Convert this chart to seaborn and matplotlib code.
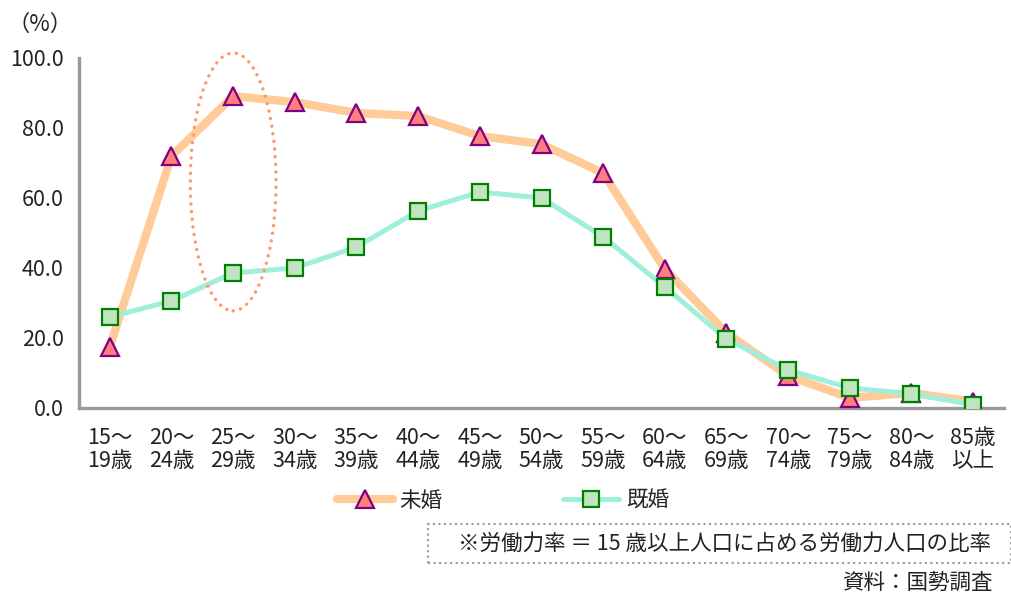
import matplotlib
matplotlib.use('Agg')
import matplotlib.pyplot as plt
import numpy as np
import pandas as pd
import seaborn as sns
from matplotlib.patches import Ellipse, Rectangle

age_labels = ['15～\n19歳', '20～\n24歳', '25～\n29歳', '30～\n34歳', '35～\n39歳',
              '40～\n44歳', '45～\n49歳', '50～\n54歳', '55～\n59歳', '60～\n64歳',
              '65～\n69歳', '70～\n74歳', '75～\n79歳', '80～\n84歳', '85歳\n以上']
unmarried = [17.5, 72.0, 89.1, 87.4, 84.3, 83.4, 77.7, 75.4, 67.1, 39.7,
             21.4, 9.2, 2.9, 4.3, 1.8]
married = [26.0, 30.6, 38.6, 40.0, 46.0, 56.3, 61.7, 60.0, 48.9, 34.6,
           19.7, 10.9, 5.7, 4.1, 0.9]
y_ticks = [0, 20, 40, 60, 80, 100]


def main():
    sns.set_style('white')
    plt.rcParams['font.family'] = ['Noto Sans CJK JP', 'DejaVu Sans']

    df = pd.DataFrame({'pos': np.arange(len(age_labels)),
                       'unmarried': unmarried, 'married': married})

    fig = plt.figure(figsize=(10.12, 5.92), dpi=100)
    ax = fig.add_axes([79 / 1012, 1 - 408 / 592, 925 / 1012, 350 / 592])

    grey = '#999999'
    txt = '#222222'
    fs = 15.5

    sns.lineplot(data=df, x='pos', y='unmarried', ax=ax, color='#FFCC99',
                 linewidth=6, marker='^', markersize=13,
                 markerfacecolor='#FF7F7F', markeredgecolor='#800080',
                 markeredgewidth=1.6, label='未婚', zorder=3)
    sns.lineplot(data=df, x='pos', y='married', ax=ax, color='#A0EEDC',
                 linewidth=3.6, marker='s', markersize=11,
                 markerfacecolor='#C0E4C0', markeredgecolor='#008000',
                 markeredgewidth=1.6, label='既婚', zorder=4)

    handles, labels = ax.get_legend_handles_labels()
    if ax.get_legend() is not None:
        ax.get_legend().remove()

    # dotted ring around 25-29
    ell = Ellipse((2.0, 64.6), width=1.39, height=73.7, fill=False,
                  edgecolor='#FF9966', linewidth=2.5, linestyle=(0, (0.01, 2.2)),
                  clip_on=False, zorder=5)
    ell.set_capstyle('round')
    ax.add_patch(ell)

    ax.set_xlim(-0.5, len(age_labels) - 0.5)
    ax.set_ylim(0, 100)
    ax.set_xlabel('')
    ax.set_ylabel('')

    ax.set_xticks(np.arange(len(age_labels)))
    ax.set_xticklabels(age_labels, fontsize=fs, linespacing=1.05)
    ax.set_xticks(np.arange(0.5, len(age_labels), 1), minor=True)
    ax.tick_params(axis='x', which='major', length=0, pad=14, labelcolor=txt)
    ax.tick_params(axis='x', which='minor', direction='in', length=4, width=2.2, color=grey)

    ax.set_yticks(y_ticks)
    ax.set_yticklabels([f'{v:.1f}' for v in y_ticks], fontsize=fs)
    ax.tick_params(axis='y', direction='in', length=4, width=2.2, color=grey,
                   pad=11, labelcolor=txt)

    for side in ['top', 'right']:
        ax.spines[side].set_visible(False)
    for side in ['left', 'bottom']:
        ax.spines[side].set_color(grey)
        ax.spines[side].set_linewidth(2.4)

    fig.text(40 / 1012, 1 - 24 / 592, '（%）', ha='center', va='center',
             fontsize=16, color=txt)

    fig.legend(handles, labels, loc='center', bbox_to_anchor=(503 / 1012, 1 - 501 / 592),
               ncol=2, frameon=False, handlelength=2.6, columnspacing=5.6,
               handletextpad=0.3, fontsize=fs)

    box = Rectangle((428 / 1012, 1 - 563 / 592), (1011 - 428) / 1012, 39 / 592,
                    transform=fig.transFigure, fill=False, edgecolor=grey,
                    linewidth=1.5, linestyle=':')
    fig.patches.append(box)
    fig.text(725 / 1012, 1 - 544 / 592, '※労働力率 ＝ 15 歳以上人口に占める労働力人口の比率',
             ha='center', va='center', fontsize=fs, color=txt)
    fig.text(993 / 1012, 1 - 583 / 592, '資料：国勢調査', ha='right', va='center',
             fontsize=fs, color=txt)

    fig.savefig('out.png', dpi=100)


if __name__ == "__main__":
    main()
